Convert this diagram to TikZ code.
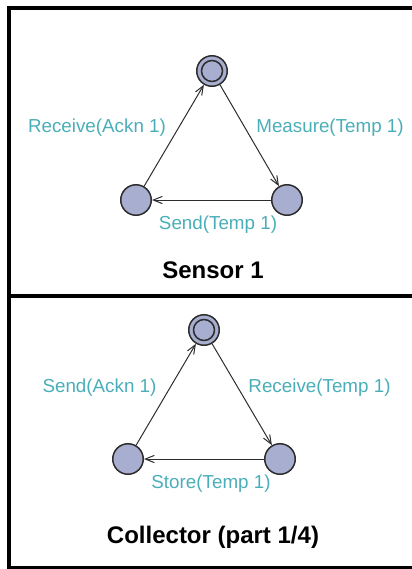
\documentclass[tikz,border=0pt]{standalone}
\usepackage{tikz}
\usetikzlibrary{arrows.meta}
\usepackage{xcolor}
\usepackage{fontspec}
\setmainfont{Liberation Sans}

\definecolor{labelteal}{RGB}{74,174,184}
\definecolor{statefill}{RGB}{167,174,208}
\definecolor{edgegray}{RGB}{45,45,45}

\begin{document}
\begin{tikzpicture}[x=0.5pt, y=-0.5pt, >={Straight Barb[length=4.5pt,width=3.6pt]},
    state/.style={circle, draw=edgegray, fill=statefill, line width=0.75pt,
      minimum size=15.25pt, inner sep=0pt},
    init/.style={state, path picture={\draw[edgegray, line width=0.75pt]
      (path picture bounding box.center) circle (5.25pt);}},
    trans/.style={->, draw=edgegray, line width=0.5pt},
    act/.style={text=labelteal, font=\fontsize{9.4}{11}\selectfont},
    title/.style={font=\fontsize{12}{14}\selectfont\bfseries}]

      % Fix the page and cut the frame at its right edge
      \useasboundingbox (0,0) rectangle (412,569);
      \clip (0,0) rectangle (412,569);

      % Frame around both parts
      \coordinate (F1) at (8.5,7.5);
      \coordinate (F2) at (424,568);
      \coordinate (M1) at (8.5,295.5);
      \coordinate (M2) at (424,295.5);
      \draw[line width=2pt] (F1) rectangle (F2);
      \draw[line width=2pt] (M1) -- (M2);

      % Sensor states
      \node[init] (S1) at (212,71) {};
      \node[state] (S2) at (287,200) {};
      \node[state] (S3) at (136,200) {};

      % Sensor transitions
      \draw[trans] (S1) -- (S2);
      \draw[trans] (S2) -- (S3);
      \draw[trans] (S3) -- (S1);

      % Label the sensor transitions
      \node[act] (sl1) at (97,128) {Receive(Ackn 1)};
      \node[act] (sl2) at (330,128) {Measure(Temp 1)};
      \node[act] (sl3) at (218,225) {Send(Temp 1)};
      \node[title] (st) at (213,270) {Sensor 1};

      % Collector states
      \node[init] (C1) at (204,330) {};
      \node[state] (C2) at (280,459) {};
      \node[state] (C3) at (128,459) {};

      % Collector transitions
      \draw[trans] (C1) -- (C2);
      \draw[trans] (C2) -- (C3);
      \draw[trans] (C3) -- (C1);

      % Label the collector transitions
      \node[act] (cl1) at (99.5,388) {Send(Ackn 1)};
      \node[act] (cl2) at (319.5,388) {Receive(Temp 1)};
      \node[act] (cl3) at (211,484) {Store(Temp 1)};
      \node[title] (ct) at (213,537) {Collector (part 1/4)};
    \end{tikzpicture}
\end{document}
